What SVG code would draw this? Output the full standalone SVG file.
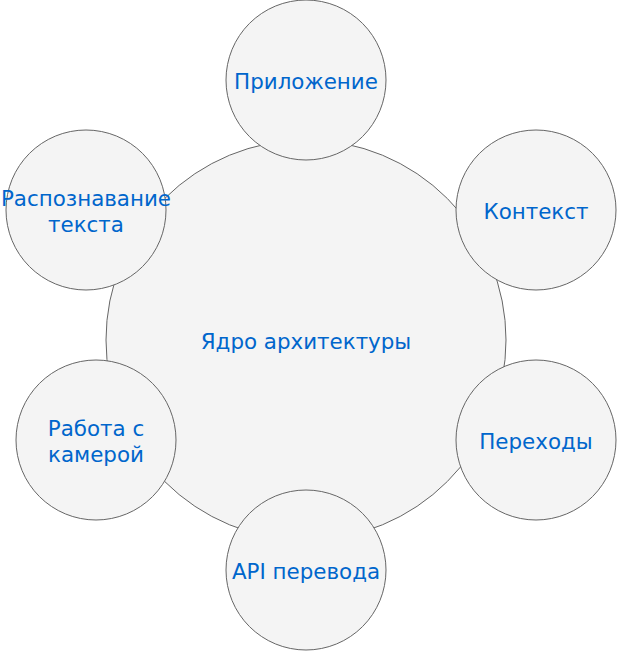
<svg xmlns="http://www.w3.org/2000/svg" width="617" height="651" viewBox="0 0 617 651">
<style>
.c{fill:#f4f4f4;stroke:#666666;stroke-width:1}
.t{font-family:"DejaVu Sans",Verdana,sans-serif;font-size:21.4px;fill:#0066cc;text-anchor:middle}
</style>
<rect width="617" height="651" fill="#ffffff"/>
<g id="core"><circle class="c" cx="306" cy="340" r="200"/><text class="t" x="306" y="349">Ядро архитектуры</text></g>
<g id="connectors"></g>
<g id="app"><circle class="c" cx="306" cy="80" r="80"/><text class="t" x="306" y="89">Приложение</text></g>
<g id="context"><circle class="c" cx="536" cy="210" r="80"/><text class="t" x="536" y="219">Контекст</text></g>
<g id="transitions"><circle class="c" cx="536" cy="440" r="80"/><text class="t" x="536" y="449">Переходы</text></g>
<g id="api"><circle class="c" cx="306" cy="570" r="80"/><text class="t" x="306" y="579">API перевода</text></g>
<g id="camera"><circle class="c" cx="96" cy="440" r="80"/><text class="t" x="96" y="436">Работа с</text><text class="t" x="96" y="462">камерой</text></g>
<g id="ocr"><circle class="c" cx="86" cy="210" r="80"/><text class="t" x="86" y="206">Распознавание</text><text class="t" x="86" y="232">текста</text></g>
</svg>
